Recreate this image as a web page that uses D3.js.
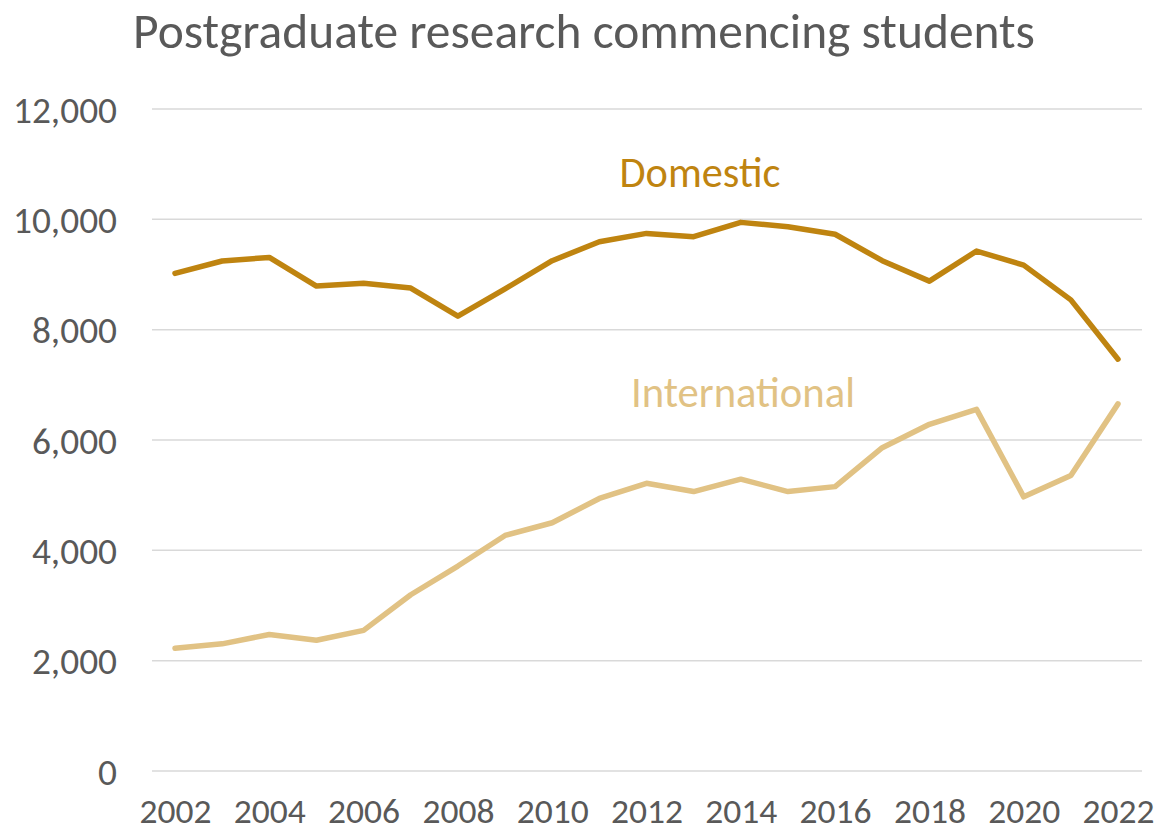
<!DOCTYPE html>
<html>
<head>
<meta charset="utf-8">
<script src="https://cdn.jsdelivr.net/npm/d3@7"></script>
<style>
  body { margin: 0; background: #fff; }
  svg text { font-family: Carlito, Calibri, "Open Sans", sans-serif; }
</style>
</head>
<body>
<div id="chart"></div>
<script>
// chart data
const years = d3.range(2002, 2023);
const domestic = [9020, 9245, 9310, 8790, 8840, 8755, 8245, 8740, 9250, 9595,
  9745, 9685, 9945, 9865, 9730, 9250, 8880, 9425, 9170, 8540, 7465];
const international = [2225, 2305, 2475, 2370, 2550, 3195, 3715, 4270, 4500, 4940,
  5215, 5065, 5290, 5065, 5155, 5860, 6285, 6555, 4970, 5355, 6655];
const yTicks = [0, 2000, 4000, 6000, 8000, 10000, 12000];
const xTicks = d3.range(2002, 2023, 2);

const width = 1170;
const height = 835;
const margin = { top: 109, right: 28, bottom: 64, left: 152 };

const svg = d3.select('#chart')
  .append('svg')
  .attr('width', width)
  .attr('height', height);

const x = d3.scaleLinear()
  .domain([2002, 2022])
  .range([175, 1118]);

const y = d3.scaleLinear()
  .domain([0, 12000])
  .range([height - margin.bottom, margin.top]);

// shrink or grow a text until it spans the given width
const fitText = (sel, target) => {
  const node = sel.node();
  const size = parseFloat(sel.attr('font-size'));
  const w = node.getComputedTextLength();
  if (w > 0) sel.attr('font-size', (size * target / w).toFixed(2));
};

// gridlines
svg.append('g')
  .selectAll('line')
  .data(yTicks)
  .join('line')
  .attr('x1', margin.left)
  .attr('x2', width - margin.right)
  .attr('y1', (d) => y(d))
  .attr('y2', (d) => y(d))
  .attr('stroke', '#d9d9d9')
  .attr('stroke-width', 1.5);

// y axis
const yAxis = svg.append('g')
  .attr('transform', 'translate(117,0)')
  .call(d3.axisLeft(y).tickValues(yTicks).tickSize(0).tickPadding(0)
    .tickFormat(d3.format(',')));
yAxis.select('.domain').remove();
yAxis.selectAll('text')
  .attr('fill', '#595959')
  .attr('font-size', 32)
  .attr('dy', '0.35em')
  .style('font-family', 'Carlito, Calibri, "Open Sans", sans-serif');
yAxis.selectAll('text').filter((d) => d === 12000).each(function () {
  fitText(d3.select(this), 104);
});
const ySize = yAxis.selectAll('text').filter((d) => d === 12000).attr('font-size');
yAxis.selectAll('text').attr('font-size', ySize);

// x axis
const xAxis = svg.append('g')
  .attr('transform', `translate(0,${height - margin.bottom})`)
  .call(d3.axisBottom(x).tickValues(xTicks).tickSize(0).tickPadding(0)
    .tickFormat(d3.format('d')));
xAxis.select('.domain').remove();
xAxis.selectAll('text')
  .attr('fill', '#595959')
  .attr('font-size', 32)
  .attr('y', 52)
  .attr('dy', 0)
  .style('font-family', 'Carlito, Calibri, "Open Sans", sans-serif');
xAxis.selectAll('text').filter((d) => d === 2002).each(function () {
  fitText(d3.select(this), 72);
});
const xSize = xAxis.selectAll('text').filter((d) => d === 2002).attr('font-size');
xAxis.selectAll('text').attr('font-size', xSize);

// lines
const line = d3.line()
  .x((d, i) => x(years[i]))
  .y((d) => y(d));

svg.append('path')
  .datum(international)
  .attr('fill', 'none')
  .attr('stroke', '#e1c284')
  .attr('stroke-width', 5.5)
  .attr('stroke-linejoin', 'round')
  .attr('stroke-linecap', 'round')
  .attr('d', line);

svg.append('path')
  .datum(domestic)
  .attr('fill', 'none')
  .attr('stroke', '#bf8410')
  .attr('stroke-width', 5.5)
  .attr('stroke-linejoin', 'round')
  .attr('stroke-linecap', 'round')
  .attr('d', line);

// series labels
const dLabel = svg.append('text')
  .attr('x', 700)
  .attr('y', 187)
  .attr('text-anchor', 'middle')
  .attr('fill', '#bf8410')
  .attr('font-size', 36)
  .text('Domestic');
fitText(dLabel, 161);

const iLabel = svg.append('text')
  .attr('x', 743)
  .attr('y', 407)
  .attr('text-anchor', 'middle')
  .attr('fill', '#e1c284')
  .attr('font-size', 36)
  .text('International');
fitText(iLabel, 224);

// title
const title = svg.append('text')
  .attr('x', 584)
  .attr('y', 48)
  .attr('text-anchor', 'middle')
  .attr('fill', '#595959')
  .attr('font-size', 40)
  .text('Postgraduate research commencing students');
fitText(title, 902);
</script>
</body>
</html>
